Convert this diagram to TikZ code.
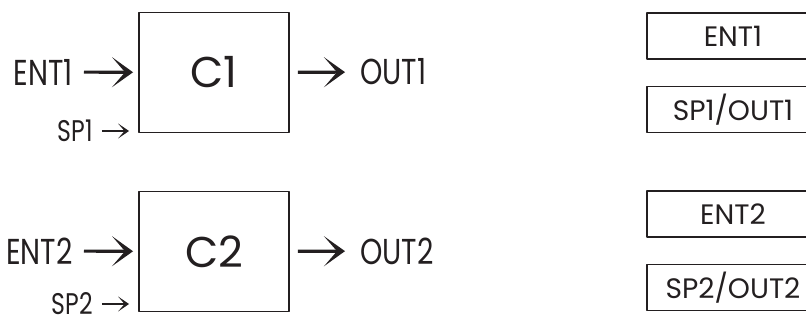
\documentclass[tikz,border=0pt]{standalone}
\usepackage{fontspec}
\setmainfont{Poppins}
\newfontfamily\lblfont[FakeStretch=0.79]{Poppins}
\usetikzlibrary{arrows.meta}
\definecolor{ink}{RGB}{35,31,32}

\begin{document}
\begin{tikzpicture}[x=0.02cm, y=-0.02cm, line join=round, color=ink,
		blk/.style={draw, line width=1.1pt, minimum width=3cm, minimum height=2.4cm, font=\fontsize{24.5}{26}\selectfont},
		reg/.style={draw, line width=0.9pt, minimum width=3.44cm, minimum height=0.92cm, font=\fontsize{16}{18}\selectfont},
		lblbig/.style={inner sep=0pt, font=\lblfont\fontsize{20.5}{22}\selectfont},
		lblsmall/.style={inner sep=0pt, font=\lblfont\fontsize{17}{19}\selectfont},
		bigarr/.style={line width=1.8pt, -{Stealth[length=0.42cm, width=0.6cm, inset=0.26cm]}},
		smallarr/.style={line width=1pt, -{Stealth[length=0.22cm, width=0.3cm, inset=0.13cm]}}]
		\useasboundingbox (0,0) rectangle (806,322);
		\clip (0,0) rectangle (806,322);
		% blocks
		\node[blk] (c1) at (214,72.5) {C1};
		\node[blk] (c2) at (214,251.5) {C2};
		% labels
		\node[lblbig, anchor=east] (ent1) at (73,72) {ENT1};
		\node[lblbig, anchor=west] (out1) at (360,72) {OUT1};
		\node[lblsmall, anchor=east] (sp1) at (93,131) {SP1};
		\node[lblbig, anchor=east] (ent2) at (73,251) {ENT2};
		\node[lblbig, anchor=west] (out2) at (360,251) {OUT2};
		\node[lblsmall, anchor=east] (sp2) at (93,304) {SP2};
		% arrows
		\draw[bigarr, shorten <=0.22cm, shorten >=0.1cm] (ent1) -- (c1);
		\draw[bigarr, shorten <=0.16cm, shorten >=0.3cm] (c1) -- (out1);
		\draw[smallarr, shorten <=0.18cm, shorten >=0.18cm] (sp1) -- (sp1 -| c1.west);
		\draw[bigarr, shorten <=0.22cm, shorten >=0.1cm] (ent2) -- (c2);
		\draw[bigarr, shorten <=0.16cm, shorten >=0.3cm] (c2) -- (out2);
		\draw[smallarr, shorten <=0.18cm, shorten >=0.18cm] (sp2) -- (sp2 -| c2.west);
		% registers
		\node[reg] (r1) at (733,36) {ENT1};
		\node[reg] (r2) at (733,109.5) {SP1/OUT1};
		\node[reg] (r3) at (733,214) {ENT2};
		\node[reg] (r4) at (733,287.5) {SP2/OUT2};
\end{tikzpicture}
\end{document}
